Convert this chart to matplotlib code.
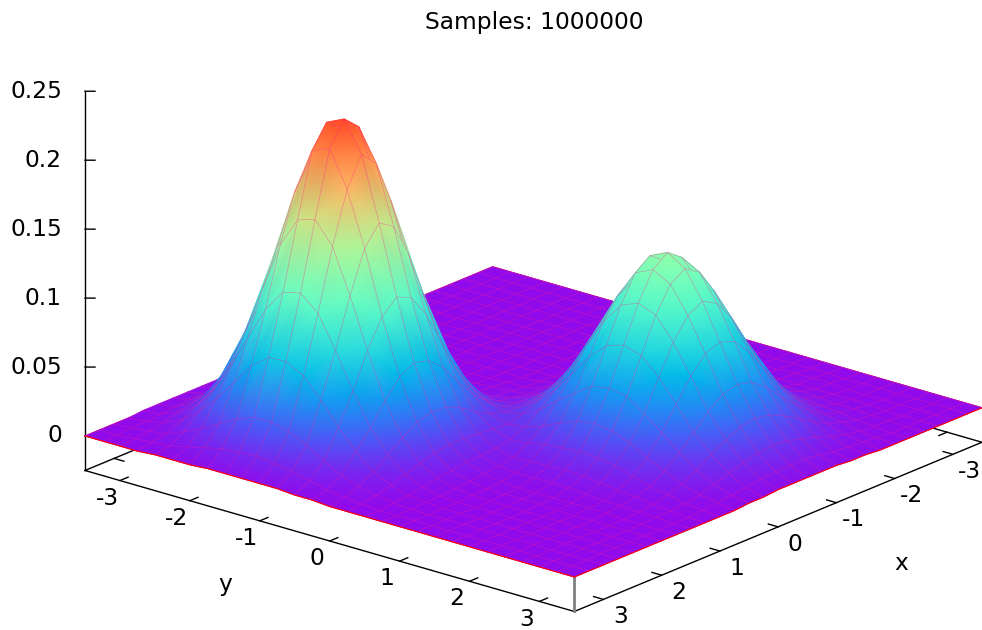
import matplotlib
matplotlib.use('Agg')
import matplotlib.pyplot as plt
from matplotlib.colors import ListedColormap
import numpy as np
from mpl_toolkits.mplot3d import proj3d

title = 'Samples: 1000000'
x_nodes = [-3.5, -3.25, -3, -2.75, -2.5, -2.25, -2, -1.75, -1.5, -1.25, -1, -0.75, -0.5, -0.25, 0,
           0.25, 0.5, 0.75, 1, 1.25, 1.5, 1.75, 2, 2.25, 2.5, 2.75, 3, 3.25, 3.5]
y_nodes = list(x_nodes)
x_ticks = [-3, -2, -1, 0, 1, 2, 3]
y_ticks = [-3, -2, -1, 0, 1, 2, 3]
z_ticks = [0, 0.05, 0.1, 0.15, 0.2, 0.25]
z_labels = ['0', '0.05', '0.1', '0.15', '0.2', '0.25']

# density in thousandths, one row per y node, one column per x node
z_milli = [
    [0,0,0,0,0,0,0,0,0,0,0,0,0,0,0,0,0,0,1,1,1,1,1,1,1,0,0,0,0],
    [0,0,0,0,0,0,0,0,0,0,0,0,0,0,0,0,1,2,3,3,4,4,4,3,2,1,1,0,0],
    [0,0,0,0,0,0,0,0,0,0,0,0,0,0,1,1,3,5,8,11,13,13,12,10,7,4,2,1,0],
    [0,0,0,0,0,0,0,0,0,0,0,0,0,0,1,3,7,12,18,24,28,29,26,21,15,9,4,2,0],
    [0,0,0,0,0,0,0,0,0,0,0,0,0,1,2,6,13,23,35,46,55,57,52,42,30,19,9,3,1],
    [0,0,0,0,0,0,0,0,0,0,0,0,0,1,4,10,22,39,59,79,94,97,89,72,51,32,15,6,1],
    [0,0,0,0,0,0,0,0,0,0,0,0,1,2,6,15,34,58,89,119,140,146,133,107,76,47,22,9,1],
    [0,0,0,0,0,0,0,0,0,0,0,0,1,3,8,20,44,77,117,157,185,194,176,142,100,63,29,12,2],
    [0,0,0,0,0,0,0,0,0,0,0,0,1,3,9,24,52,89,136,182,218,226,210,164,116,73,34,13,2],
    [0,0,0,0,0,0,0,0,0,0,0,0,1,3,10,24,53,91,139,186,222,232,215,168,119,74,34,14,2],
    [0,0,0,0,0,0,0,0,0,0,0,1,2,3,9,22,48,82,126,168,199,210,189,152,108,67,31,12,2],
    [0,0,0,0,0,0,0,0,0,0,1,1,3,3,8,18,39,66,100,133,157,164,150,120,85,53,25,10,2],
    [0,0,0,0,0,0,0,1,2,2,3,4,4,6,8,14,28,46,70,93,109,114,104,84,59,37,17,7,1],
    [0,0,0,0,0,0,1,2,4,5,7,9,9,10,10,12,20,30,43,58,67,70,64,51,36,23,10,4,1],
    [0,0,0,0,1,1,2,4,7,11,14,17,18,18,16,15,16,19,25,32,37,38,35,28,20,12,6,2,0],
    [0,0,0,0,1,2,5,8,14,21,27,32,34,32,28,23,18,15,16,17,18,18,16,13,9,6,3,1,0],
    [0,0,0,1,2,4,7,14,23,33,44,52,55,52,44,34,25,17,12,10,9,9,7,6,4,2,1,0,0],
    [0,0,0,1,2,5,11,20,34,50,66,78,82,78,66,50,35,21,13,7,5,4,3,2,1,1,0,0,0],
    [0,0,0,1,3,7,15,27,44,66,87,102,108,102,87,66,44,27,16,8,4,2,1,1,0,0,0,0,0],
    [0,0,1,1,4,8,17,32,53,78,103,122,130,122,103,78,53,32,17,8,4,1,1,0,0,0,0,0,0],
    [0,0,1,1,4,9,18,34,55,82,108,128,136,128,108,82,55,34,18,9,4,1,1,0,0,0,0,0,0],
    [0,0,1,1,4,8,17,32,53,78,103,121,128,121,103,78,53,32,17,8,4,1,1,0,0,0,0,0,0],
    [0,0,0,1,3,7,15,27,44,66,87,102,108,102,87,66,44,27,15,7,3,1,0,0,0,0,0,0,0],
    [0,0,0,1,2,5,11,20,34,50,66,78,82,78,66,50,34,20,11,5,2,1,0,0,0,0,0,0,0],
    [0,0,0,1,2,4,7,14,23,33,44,52,55,52,44,33,23,14,7,4,2,1,0,0,0,0,0,0,0],
    [0,0,0,0,1,2,5,8,14,21,27,32,34,32,27,21,14,8,5,2,1,0,0,0,0,0,0,0,0],
    [0,0,0,0,1,1,2,4,7,11,14,17,18,17,14,11,7,4,2,1,1,0,0,0,0,0,0,0,0],
    [0,0,0,0,0,0,1,2,3,4,6,7,7,7,6,4,3,2,1,0,0,0,0,0,0,0,0,0,0],
    [0,0,0,0,0,0,0,0,1,1,2,2,2,2,2,1,1,0,0,0,0,0,0,0,0,0,0,0,0],
]

xmin, xmax = -3.5, 3.5
ymin, ymax = -3.5, 3.5
zmin, zmax = -0.025, 0.25
fs = 16.8

fig = plt.figure(figsize=(9.82, 6.3), dpi=100)
ax = fig.add_axes([0, 0, 1, 1], projection='3d', proj_type='ortho', computed_zorder=False)
# gnuplot stretches the plot to the canvas, so don't force a square box
ax.apply_aspect = lambda position=None: None
ax.view_init(elev=30, azim=39.8)
ax.set_box_aspect((1, 1, 0.994))
ax.set_xlim(xmin, xmax, view_margin=0)
ax.set_ylim(ymin, ymax, view_margin=0)
ax.set_zlim(zmin, zmax, view_margin=0)
ax.set_axis_off()

# line the box corners up with the canvas
M = ax.get_proj()
lx, ly, _ = proj3d.proj_transform(xmax, ymin, 0, M)
rx, ry, _ = proj3d.proj_transform(xmin, ymax, 0, M)
fx, fy, _ = proj3d.proj_transform(xmax, ymax, 0, M)
sx = (982 - 85) / (rx - lx)
sy = (194 - 53) / (ly - fy)
ax.viewLim.intervalx = (lx - 85 / sx, lx + (982 - 85) / sx)
ax.viewLim.intervaly = (ly - 194 / sy, ly + (630 - 194) / sy)


def label(x, y, z, s, ha='center'):
    px, py, _ = proj3d.proj_transform(x, y, z, M)
    ax.text2D(px, py, s, transform=ax.transData, ha=ha, va='center', fontsize=fs)


X, Y = np.meshgrid(x_nodes, y_nodes)
Z = np.array(z_milli) / 1000.0

# the mesh lines of the original make the low end a bit pinker
cols = plt.cm.rainbow(np.linspace(0, 1, 256))
for i in range(40):
    w = 0.2 * (1 - i / 40)
    cols[i, :3] = (1 - w) * cols[i, :3] + w * np.array([0.85, 0.2, 0.6])
cmap = ListedColormap(cols)

# base of the box, goes under the surface
ax.plot([xmax, xmax, xmin, xmin, xmax], [ymin, ymax, ymax, ymin, ymin], [zmin] * 5, color='black', lw=1, zorder=1)
ax.plot([xmax, xmax], [ymin, ymin], [zmin, zmax], color='black', lw=1, zorder=1)
ax.plot([xmax, xmax], [ymax, ymax], [zmin, 0], color='gray', lw=2, zorder=1)
for t in y_ticks:
    ax.plot([xmax, xmax - 0.14], [t, t], [zmin, zmin], color='black', lw=1, zorder=1)
    ax.plot([xmin, xmin + 0.14], [t, t], [zmin, zmin], color='black', lw=1, zorder=1)
    label(xmax + 0.22, t, zmin - 0.009, str(t))
for t in x_ticks:
    ax.plot([t, t], [ymax, ymax - 0.14], [zmin, zmin], color='black', lw=1, zorder=1)
    ax.plot([t, t], [ymin, ymin + 0.14], [zmin, zmin], color='black', lw=1, zorder=1)
    label(t, ymax + 0.24, zmin - 0.009, str(t))
for t, lab in zip(z_ticks, z_labels):
    ax.plot([xmax, xmax - 0.07], [ymin, ymin + 0.085], [t, t], color='black', lw=1, zorder=1)
    label(xmax + 0.161, ymin - 0.195, t, lab, ha='right')

ax.plot([xmax, xmin, xmin], [ymin, ymin, ymax], [0, 0, 0], color='red', lw=0.8, zorder=2)

# surface as smooth triangles, drawn strip by strip from the back corner to the front
# with the mesh lines of each strip on top so the next strips can hide them
ny, nx = Z.shape
px, py, _ = proj3d.proj_transform(X.ravel(), Y.ravel(), Z.ravel(), M)
mesh_col = (1, 0.1, 0.6, 0.4)
for j in range(ny - 1):
    tris = []
    for i in range(nx - 1):
        a = j * nx + i
        tris.append([a, a + 1, a + nx])
        tris.append([a + 1, a + nx + 1, a + nx])
    mesh = ax.tripcolor(px, py, np.array(tris), Z.ravel(), shading='gouraud', cmap=cmap,
                        vmin=0, vmax=0.255, zorder=3 + j)
    # already projected, Axes3D.draw just wants the method to exist
    mesh.do_3d_projection = lambda: 0
    for i in range(nx):
        ax.plot(X[j:j + 2, i], Y[j:j + 2, i], Z[j:j + 2, i], color=mesh_col, lw=0.5, zorder=3.5 + j)
    # back edge of the strip, after its triangles
    ax.plot(X[j, :], Y[j, :], Z[j, :], color=mesh_col, lw=0.5, zorder=3.5 + j)

ax.plot(X[:, -1], Y[:, -1], Z[:, -1], color='red', lw=0.8, zorder=ny + 5)
ax.plot(X[-1, :], Y[-1, :], Z[-1, :], color='red', lw=0.8, zorder=ny + 5)

fig.text(534 / 982, 1 - 22 / 630, title, ha='center', va='center', fontsize=fs)
fig.text(225 / 982, 1 - 585 / 630, 'y', ha='center', va='center', fontsize=fs)
fig.text(901 / 982, 1 - 564 / 630, 'x', ha='center', va='center', fontsize=fs)

fig.savefig('out.png', dpi=100)
